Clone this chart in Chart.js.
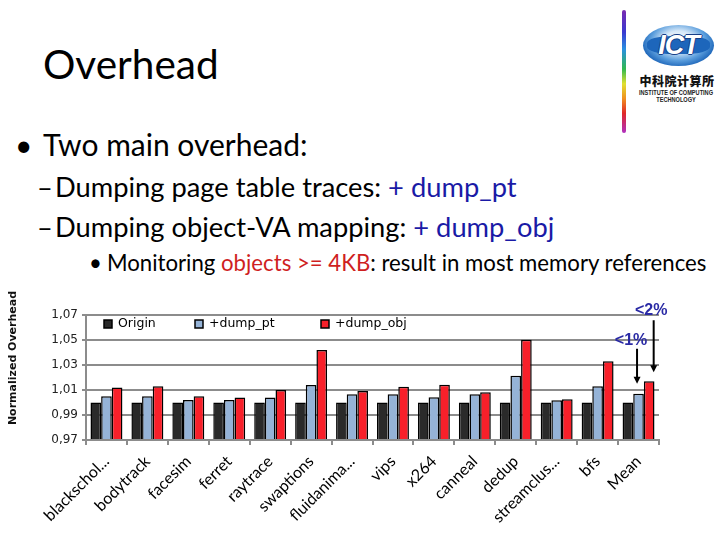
<!DOCTYPE html>
<html><head><meta charset="utf-8">
<script src="https://cdn.jsdelivr.net/npm/chart.js@4.4.1/dist/chart.umd.min.js"></script>
<style>
html,body{margin:0;padding:0;background:#fff;}
body{width:720px;height:540px;position:relative;overflow:hidden;font-family:Lato,"Open Sans",sans-serif;color:#000;}
.t{position:absolute;white-space:nowrap;line-height:1.2;}
.blue{color:#1a1aa6;}
.red{color:#cf1f1f;}
#rainbow{position:absolute;left:622px;top:10px;width:4px;height:123px;border-radius:2px;
 background:linear-gradient(to bottom,#7a2ab0 0%,#3a3ad0 18%,#2a90e0 32%,#30b850 48%,#e0e030 60%,#f09020 72%,#e02828 84%,#b030c0 100%);}
#ring{position:absolute;left:643px;top:25px;width:71px;height:41px;border-radius:50%;
 background:radial-gradient(ellipse at 50% 40%,#ffffff 0%,#d6e8f8 30%,#5a9ddc 55%,#1b64b8 75%,#0f4590 100%);}
#band{position:absolute;left:647px;top:36px;width:63px;height:18px;border-radius:40%;background:#1d66bb;}
#ict{position:absolute;left:643px;top:29px;width:71px;text-align:center;font:italic 900 27px "Liberation Sans",sans-serif;color:#fff;letter-spacing:-1px;line-height:32px;
 text-shadow:1px 0 #173f88,-1px 0 #173f88,0 1px #173f88,0 -1px #173f88;}
#cn{position:absolute;left:638px;top:72px;width:78px;text-align:center;font:900 12px "Noto Sans CJK SC",sans-serif;letter-spacing:0.5px;color:#111;}
.small{position:absolute;left:626px;width:100px;display:flex;justify-content:center;white-space:nowrap;font:bold 7px "Liberation Sans",sans-serif;color:#222;transform:scaleX(0.8);}
#chartBox{position:absolute;left:0;top:290px;width:720px;height:250px;}
</style></head><body>
<div class="t" style="left:43px;top:40px;font-size:40.5px;">Overhead</div>
<div class="t" style="left:15px;top:126px;font-size:30px;">•</div>
<div class="t" style="left:43px;top:126px;font-size:30px;">Two main overhead:</div>
<div class="t" style="left:37px;top:171px;font-size:27.3px;">–</div>
<div class="t" style="left:55px;top:171px;font-size:27.3px;">Dumping page table traces: <span class="blue">+ dump_pt</span></div>
<div class="t" style="left:37px;top:211px;font-size:27.3px;">–</div>
<div class="t" style="left:55px;top:211px;font-size:27.3px;">Dumping object-VA mapping: <span class="blue">+ dump_obj</span></div>
<div class="t" style="left:89px;top:250px;font-size:22.2px;">•</div>
<div class="t" style="left:107px;top:250px;font-size:22.2px;">Monitoring <span class="red">objects &gt;= 4KB</span>: result in most memory references</div>
<div id="rainbow"></div>
<div id="ring"></div>
<div id="band"></div>
<div id="ict">ICT</div>
<div id="cn">中科院计算所</div>
<div class="small" style="top:89px;">INSTITUTE OF COMPUTING</div>
<div class="small" style="top:96px;">TECHNOLOGY</div>
<div id="chartBox"><canvas id="c" width="720" height="250"></canvas></div>
<script>
const categories = ['blackschol...','bodytrack','facesim','ferret','raytrace','swaptions','fluidanima...','vips','x264','canneal','dedup','streamclus...','bfs','Mean'];
const seriesNames = ['Origin','+dump_pt','+dump_obj'];
const originVals = [1,1,1,1,1,1,1,1,1,1,1,1,1,1];
const dumpPtVals = [1.005,1.005,1.002,1.002,1.004,1.014,1.0066,1.0066,1.0042,1.0066,1.0214,1.0018,1.013,1.007];
const dumpObjVals = [1.012,1.013,1.005,1.004,1.010,1.042,1.0092,1.0126,1.0142,1.0082,1.0502,1.0026,1.033,1.017];
const yMin = 0.97, yMax = 1.07, yStep = 0.02;
const notes = ['<1%','<2%'];
const yTitle = 'Normalized Overhead';

const colors = ['#2a2a2a','#95b3d7','#f8202a'];

const overlay = {
  id: 'overlay',
  afterDraw(chart) {
    const ctx = chart.ctx, a = chart.chartArea;
    ctx.save();
    // y axis title
    ctx.save();
    ctx.translate(13, a.top + 43);
    ctx.rotate(-Math.PI / 2);
    ctx.font = 'bold 11px "DejaVu Sans"';
    ctx.fillStyle = '#111';
    ctx.textAlign = 'center';
    ctx.textBaseline = 'middle';
    ctx.fillText(yTitle, 0, 0);
    ctx.restore();
    // legend inside plot
    const legendOffsets = [18, 109, 235];
    ctx.font = '12.5px "DejaVu Sans"';
    ctx.textBaseline = 'middle';
    ctx.textAlign = 'left';
    const y = a.top + 9;
    chart.data.datasets.forEach((ds, i) => {
      const x = a.left + legendOffsets[i];
      ctx.fillStyle = ds.backgroundColor;
      ctx.fillRect(x, y - 4, 8, 8);
      ctx.strokeStyle = '#000'; ctx.lineWidth = 1.5;
      ctx.strokeRect(x, y - 4, 8, 8);
      ctx.fillStyle = '#000';
      ctx.fillText(ds.label, x + 14, y);
    });
    // annotations on Mean
    const last = categories.length - 1;
    const pt = chart.getDatasetMeta(1).data[last];
    const ob = chart.getDatasetMeta(2).data[last];
    function arrow(ax, y0, y1) {
      ctx.strokeStyle = '#000'; ctx.fillStyle = '#000'; ctx.lineWidth = 2;
      ctx.beginPath(); ctx.moveTo(ax, y0); ctx.lineTo(ax, y1 - 6); ctx.stroke();
      ctx.beginPath(); ctx.moveTo(ax - 3.5, y1 - 7); ctx.lineTo(ax + 3.5, y1 - 7); ctx.lineTo(ax, y1); ctx.closePath(); ctx.fill();
    }
    ctx.font = 'bold 16px "Liberation Sans"';
    ctx.textAlign = 'center';
    ctx.fillStyle = '#2a2aa5';
    ctx.fillText(notes[0], pt.x - 7.5, pt.y - 53);
    ctx.fillText(notes[1], ob.x + 2, ob.y - 71);
    arrow(pt.x - 1.5, pt.y - 45, pt.y - 10);
    arrow(ob.x + 4.5, ob.y - 61, ob.y - 9);
    ctx.restore();
  }
};

new Chart(document.getElementById('c'), {
  type: 'bar',
  data: {
    labels: categories,
    datasets: [
      {label: seriesNames[0], data: originVals, backgroundColor: colors[0]},
      {label: seriesNames[1], data: dumpPtVals, backgroundColor: colors[1]},
      {label: seriesNames[2], data: dumpObjVals, backgroundColor: colors[2]}
    ]
  },
  options: {
    responsive: false,
    animation: false,
    devicePixelRatio: 1,
    layout: {padding: {left: 0, right: 61, top: 25, bottom: 0}},
    datasets: {bar: {categoryPercentage: 0.78, barPercentage: 1.0, borderColor: '#000', borderWidth: 1.5, base: yMin}},
    plugins: {legend: {display: false}, tooltip: {enabled: false}},
    scales: {
      x: {
        afterFit(s) { s.height = 100; },
        grid: {display: true, drawOnChartArea: false, drawTicks: true, tickLength: 5, color: '#8c8c8c', lineWidth: 2, offset: true},
        border: {color: '#8c8c8c', width: 2},
        ticks: {minRotation: 45, maxRotation: 45, autoSkip: false, padding: 7, color: '#000', font: {family: 'Lato', size: 16}}
      },
      y: {
        min: yMin, max: yMax,
        afterFit(s) { s.width = 86; },
        grid: {color: '#8c8c8c', lineWidth: 2, tickLength: 4},
        border: {color: '#8c8c8c', width: 2},
        ticks: {stepSize: yStep, padding: 4, color: '#222', font: {family: 'DejaVu Sans', size: 12},
          callback: v => v.toFixed(2).replace('.', ',')},
        title: {display: false, text: yTitle}
      }
    }
  },
  plugins: [overlay]
});
</script>
</body></html>
